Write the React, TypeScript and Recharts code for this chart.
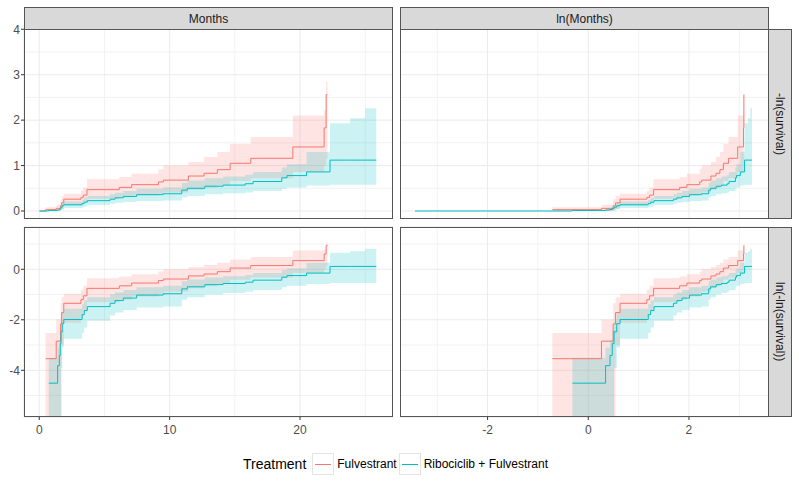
import React from "react";
import {
  ComposedChart,
  Line,
  Area,
  XAxis,
  YAxis,
  CartesianGrid,
} from "recharts";

// Fulvestrant: cumulative hazard -ln(S) with confidence band, by month
const redMonths = [0, 0.49, 1.3, 1.64, 1.72, 1.88, 3.2, 3.38, 3.66, 6.14, 7.09, 9.14, 9.52, 11.44, 12.64, 13.66, 14.64, 16.22, 19.45, 21.85, 22.0, 22.1];
const redCumHaz = [0, 0.029, 0.058, 0.115, 0.18, 0.26, 0.3, 0.35, 0.47, 0.52, 0.58, 0.64, 0.68, 0.77, 0.83, 0.91, 1.05, 1.16, 1.41, 1.83, 2.56, 2.56];
const redLower = [0, 0, 0, 0, 0.05, 0.12, 0.15, 0.19, 0.27, 0.3, 0.34, 0.38, 0.41, 0.47, 0.51, 0.56, 0.66, 0.72, 0.86, 1.0, 1.15, 1.15];
const redUpper = [0, 0.08, 0.137, 0.26, 0.33, 0.38, 0.45, 0.52, 0.7, 0.75, 0.82, 0.92, 1.0, 1.08, 1.19, 1.3, 1.48, 1.63, 2.1, 2.22, 2.85, 2.85];

// Ribociclib + Fulvestrant
const tealMonths = [0.032, 0.73, 1.41, 1.54, 1.61, 1.67, 1.76, 1.88, 3.29, 3.45, 3.69, 5.43, 5.81, 6.45, 7.47, 9.5, 10.93, 11.36, 12.7, 14.1, 15.8, 16.4, 18.6, 19.0, 20.5, 22.3, 23.85, 25.0, 25.85];
const tealCumHaz = [0, 0.011, 0.022, 0.033, 0.053, 0.084, 0.116, 0.137, 0.166, 0.195, 0.228, 0.26, 0.29, 0.32, 0.36, 0.38, 0.46, 0.5, 0.545, 0.57, 0.6, 0.65, 0.73, 0.78, 0.86, 1.12, 1.12, 1.12, 1.12];
const tealLower = [0, 0, 0, 0, 0, 0.02, 0.045, 0.064, 0.08, 0.1, 0.13, 0.16, 0.18, 0.2, 0.22, 0.23, 0.3, 0.33, 0.37, 0.39, 0.41, 0.44, 0.49, 0.52, 0.56, 0.58, 0.58, 0.58, 0.58];
const tealUpper = [0, 0.03, 0.045, 0.06, 0.09, 0.13, 0.18, 0.21, 0.25, 0.29, 0.33, 0.37, 0.4, 0.44, 0.49, 0.52, 0.62, 0.67, 0.72, 0.76, 0.8, 0.86, 0.96, 1.03, 1.3, 1.93, 2.04, 2.26, 2.26];

const colTitles = ["Months", "ln(Months)"];
const rowTitles = ["-ln(survival)", "ln(-ln(survival))"];
const legendLabels = ["Fulvestrant", "Ribociclib + Fulvestrant"];

const monthTicks = [0, 10, 20];
const monthMinor = [5, 15, 25];
const logMonthTicks = [-2, 0, 2];
const logMonthMinor = [-3, -1, 1, 3];
const hazTicks = [0, 1, 2, 3, 4];
const hazMinor = [0.5, 1.5, 2.5, 3.5];
const logHazTicks = [-4, -2, 0];
const logHazMinor = [-5, -3, -1, 1];

const RED = "#F8766D";
const TEAL = "#00BFC4";
const FONT = "'Liberation Sans', Arial, sans-serif";
const LOG_FLOOR = -12; // band lower limit of 0 -> clipped below the panel

type Row = { x: number; [k: string]: number | [number, number] | null | undefined };

function buildRows(logX: boolean, logY: boolean): Row[] {
  const rows: Row[] = [];
  const add = (key: string, months: number[], haz: number[], lo: number[], hi: number[]) => {
    months.forEach((t, i) => {
      if (logX && t <= 0) return;
      const x = logX ? Math.log(t) : t;
      let y: number | null;
      let band: [number, number] | null;
      if (logY) {
        y = haz[i] > 0 ? Math.log(haz[i]) : null;
        band = hi[i] > 0 ? [lo[i] > 0 ? Math.log(lo[i]) : LOG_FLOOR, Math.log(hi[i])] : null;
      } else {
        y = haz[i];
        band = [lo[i], hi[i]];
      }
      rows.push({ x, [key]: y, [key + "Band"]: band });
    });
  };
  add("red", redMonths, redCumHaz, redLower, redUpper);
  add("teal", tealMonths, tealCumHaz, tealLower, tealUpper);
  rows.sort((a, b) => a.x - b.x);
  return rows;
}

const PLOT_W = 369;
const PLOT_H = 190;
const Y_AXIS_W = 24;
const X_AXIS_H = 30;
const PAD_TOP = 8; // room for the top tick label
const tickStyle = { fontSize: 12, fill: "#4D4D4D", fontFamily: FONT };

interface PanelProps {
  left: number;
  top: number;
  logX: boolean;
  logY: boolean;
  showX: boolean;
  showY: boolean;
}

function Panel({ left, top, logX, logY, showX, showY }: PanelProps) {
  const rows = buildRows(logX, logY);
  const xDomain = logX ? [-3.74, 3.59] : [-1.17, 27.13];
  const yDomain = logY ? [-5.85, 1.675] : [-0.176, 4.006];
  const xTicks = logX ? logMonthTicks : monthTicks;
  const xMinor = logX ? logMonthMinor : monthMinor;
  const yTicks = logY ? logHazTicks : hazTicks;
  const yMinor = logY ? logHazMinor : hazMinor;
  const w = PLOT_W + (showY ? Y_AXIS_W : 0);
  const h = PAD_TOP + PLOT_H + (showX ? X_AXIS_H : 0);

  return (
    <>
      <div style={{ position: "absolute", left: left - (showY ? Y_AXIS_W : 0), top: top - PAD_TOP }}>
        <ComposedChart width={w} height={h} data={rows} margin={{ top: PAD_TOP, right: 0, bottom: 0, left: 0 }}>
          <XAxis xAxisId="m" type="number" dataKey="x" domain={xDomain} ticks={xMinor} allowDataOverflow hide />
          <YAxis yAxisId="m" type="number" domain={yDomain} ticks={yMinor} allowDataOverflow hide />
          <CartesianGrid xAxisId="m" yAxisId="m" stroke="#F2F2F2" strokeWidth={1} />
          <CartesianGrid stroke="#EBEBEB" strokeWidth={1} />
          <XAxis
            type="number"
            dataKey="x"
            domain={xDomain}
            ticks={xTicks}
            interval={0}
            allowDataOverflow
            hide={!showX}
            height={X_AXIS_H}
            axisLine={false}
            tickLine={{ stroke: "#333333" }}
            tickSize={3}
            tickMargin={5}
            tick={tickStyle}
          />
          <YAxis
            type="number"
            domain={yDomain}
            ticks={yTicks}
            interval={0}
            allowDataOverflow
            hide={!showY}
            width={Y_AXIS_W}
            axisLine={false}
            tickLine={{ stroke: "#333333" }}
            tickSize={3}
            tickMargin={1}
            tick={tickStyle}
          />
          <Area type="stepAfter" dataKey="redBand" fill={RED} fillOpacity={0.2} stroke="none" connectNulls isAnimationActive={false} />
          <Area type="stepAfter" dataKey="tealBand" fill={TEAL} fillOpacity={0.2} stroke="none" connectNulls isAnimationActive={false} />
          <Line type="stepAfter" dataKey="red" stroke={RED} strokeWidth={1} dot={false} connectNulls isAnimationActive={false} />
          <Line type="stepAfter" dataKey="teal" stroke={TEAL} strokeWidth={1} dot={false} connectNulls isAnimationActive={false} />
        </ComposedChart>
      </div>
      <div
        style={{
          position: "absolute",
          left,
          top,
          width: PLOT_W,
          height: PLOT_H,
          border: "1px solid #555555",
          boxSizing: "border-box",
          pointerEvents: "none",
        }}
      />
    </>
  );
}

const stripBase: React.CSSProperties = {
  position: "absolute",
  background: "#D9D9D9",
  border: "1px solid #555555",
  boxSizing: "border-box",
  display: "flex",
  alignItems: "center",
  justifyContent: "center",
  fontSize: 12,
  color: "#1A1A1A",
  fontFamily: FONT,
};

function LegendKey({ color }: { color: string }) {
  return (
    <div
      style={{
        width: 22,
        height: 22,
        border: "1px solid #E3E3E3",
        boxSizing: "border-box",
        position: "relative",
        background: "#FFFFFF",
      }}
    >
      <div style={{ position: "absolute", left: 2, right: 2, top: 10, height: 1, background: color }} />
    </div>
  );
}

export default function App() {
  const colLeft = [24, 400];
  const rowTop = [29, 227];
  return (
    <div
      style={{
        position: "absolute",
        left: 0,
        top: 0,
        width: 799,
        height: 489,
        background: "#FFFFFF",
        fontFamily: FONT,
        overflow: "hidden",
      }}
    >
      <Panel left={24} top={29} logX={false} logY={false} showX={false} showY />
      <Panel left={400} top={29} logX logY={false} showX={false} showY={false} />
      <Panel left={24} top={227} logX={false} logY showX showY />
      <Panel left={400} top={227} logX logY showX showY={false} />
      {colTitles.map((t, i) => (
        <div key={t} style={{ ...stripBase, left: colLeft[i], top: 7, width: PLOT_W, height: 23 }}>
          {t}
        </div>
      ))}
      {rowTitles.map((t, i) => (
        <div key={t} style={{ ...stripBase, left: 768, top: rowTop[i], width: 24, height: PLOT_H }}>
          <span style={{ writingMode: "vertical-rl" }}>{t}</span>
        </div>
      ))}
      <div
        style={{
          position: "absolute",
          left: 243,
          top: 453,
          height: 22,
          display: "flex",
          alignItems: "center",
          fontFamily: FONT,
          color: "#000000",
        }}
      >
        <span style={{ fontSize: 14, marginRight: 6 }}>Treatment</span>
        <LegendKey color={RED} />
        <span style={{ fontSize: 12, marginLeft: 3, marginRight: 2 }}>{legendLabels[0]}</span>
        <LegendKey color={TEAL} />
        <span style={{ fontSize: 12, marginLeft: 3 }}>{legendLabels[1]}</span>
      </div>
    </div>
  );
}
